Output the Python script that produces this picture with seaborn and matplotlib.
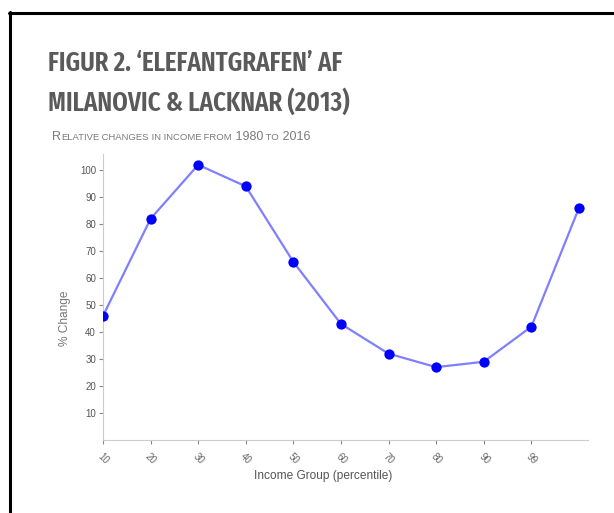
import matplotlib
matplotlib.use("Agg")
import matplotlib.pyplot as plt
import seaborn as sns
import pandas as pd
from matplotlib.lines import Line2D
from matplotlib import font_manager as fm

# ---- data ----
percentile = ["10", "20", "30", "40", "50", "60", "70", "80", "90", "99", "100"]
change = [46, 82, 102, 94, 66, 43, 32, 27, 29, 42, 86]
tick_labels = ["10", "20", "30", "40", "50", "60", "70", "80", "90", "99"]
y_ticks = [10, 20, 30, 40, 50, 60, 70, 80, 90, 100]

df = pd.DataFrame({"pos": range(len(percentile)), "group": percentile, "change": change})

sns.set_theme(style="white")
plt.rcParams["font.family"] = ["Liberation Sans", "DejaVu Sans"]

W, H = 614, 513
fig = plt.figure(figsize=(W / 100, H / 100), dpi=100)
fig.patch.set_facecolor("white")

ax = fig.add_axes([103 / W, 1 - 440 / H, (588 - 103) / W, (440 - 154) / H])

sns.lineplot(data=df, x="pos", y="change", ax=ax, color="#7f7fff", linewidth=1.6)
sns.scatterplot(data=df, x="pos", y="change", ax=ax, color="#0000ff", s=55,
                edgecolor="#0000ff", linewidth=0, zorder=5)

ax.set_xlim(0, 10.19)
ax.set_ylim(0, 106)
ax.set_xticks(range(len(tick_labels)))
ax.set_xticklabels(tick_labels, rotation=-45, ha="left", rotation_mode="anchor",
                   fontsize=7, color="#666666")
ax.set_yticks(y_ticks)
ax.set_yticklabels([str(v) for v in y_ticks], fontsize=7, color="#555555")
ax.tick_params(axis="both", length=3, width=0.8, color="#888888", pad=2, bottom=True, left=True)
ax.tick_params(axis="x", pad=5)

for s in ["top", "right"]:
    ax.spines[s].set_visible(False)
for s in ["left", "bottom"]:
    ax.spines[s].set_color("#cccccc")
    ax.spines[s].set_linewidth(0.8)

ax.set_xlabel("Income Group (percentile)", fontsize=8.6, color="#555555")
ax.set_ylabel("% Change", fontsize=8.6, color="#777777")
ax.xaxis.set_label_coords((323 - 103) / 485, (440 - 476) / 286)
ax.xaxis.label.set_va("center")
ax.yaxis.set_label_coords((65 - 103) / 485, (440 - 318) / 286)
ax.yaxis.label.set_va("center")

# ---- titles ----
title1 = "FIGUR 2. \u2018ELEFANTGRAFEN\u2019 AF"
title2 = "MILANOVIC & LACKNAR (2013)"
TARGET_W = 295.0
TARGET_SIZE = 19.0

def weight_value(w):
    if isinstance(w, int):
        return w
    return {"bold": 700, "semibold": 600, "demibold": 600, "medium": 500,
            "normal": 400, "regular": 400, "black": 900, "heavy": 800,
            "extra bold": 800, "ultrabold": 800}.get(str(w), 400)

cands = []
for f in fm.fontManager.ttflist:
    n = f.name.lower()
    st = f.stretch
    cond = ("condensed" in n or "narrow" in n or
            (isinstance(st, str) and "condensed" in st) or
            (isinstance(st, int) and st < 500))
    if not cond:
        continue
    if "italic" in str(f.style) or "oblique" in str(f.style):
        continue
    low = f.fname.lower()
    if any(k in low for k in ("black", "heavy", "extrabold", "ultra", "light", "thin")):
        continue
    wv = weight_value(f.weight)
    if wv < 500 or wv > 700:
        continue
    cands.append((f.fname, wv))

renderer = fig.canvas.get_renderer()
best = None
probe = fig.text(0, 0, title1, fontsize=TARGET_SIZE)
for path, wv in sorted(set(cands)):
    try:
        probe.set_fontproperties(fm.FontProperties(fname=path, size=TARGET_SIZE))
        w = probe.get_window_extent(renderer).width
    except Exception:
        continue
    score = abs(w - TARGET_W) / TARGET_W + abs(wv - 600) / 1000.0
    if best is None or score < best[0]:
        best = (score, path, w)
probe.remove()

if best:
    fp = fm.FontProperties(fname=best[1])
    size = TARGET_SIZE * TARGET_W / best[2]
    tprops = dict(fontproperties=fp)
else:
    tprops = dict(family=["Roboto", "DejaVu Sans"], fontweight="bold")
    size = 14

t1 = fig.text(48 / W, 1 - 71 / H, title1, color="#5a5a5a", ha="left", va="baseline", **tprops)
t2 = fig.text(48 / W, 1 - 111 / H, title2, color="#5a5a5a", ha="left", va="baseline", **tprops)
for t in (t1, t2):
    t.set_fontsize(size)

# small-caps subtitle
segments = [("R", 9.0), ("ELATIVE", 6.8), (" CHANGES", 6.8), (" IN", 6.8), (" INCOME", 6.8),
            (" FROM", 6.8), (" 1980", 9.0), (" TO", 6.8), (" 2016", 9.0)]
base_y = 1 - 140 / H
prev = fig.text(52 / W, base_y, segments[0][0], fontsize=segments[0][1], color="#7a7a7a",
                ha="left", va="baseline")
for txt, sz in segments[1:]:
    prev = ax.annotate(txt, xy=(1, base_y), xycoords=(prev, "figure fraction"), fontsize=sz,
                       color="#7a7a7a", ha="left", va="baseline", annotation_clip=False)

# frame lines (top and left)
fig.add_artist(Line2D([8.5 / W, 1], [1 - 12.5 / H, 1 - 12.5 / H], color="black",
                      linewidth=2.2, transform=fig.transFigure))
fig.add_artist(Line2D([9.5 / W, 9.5 / W], [0, 1 - 11.5 / H], color="black",
                      linewidth=2.2, transform=fig.transFigure))

fig.savefig("out.png", dpi=100)
